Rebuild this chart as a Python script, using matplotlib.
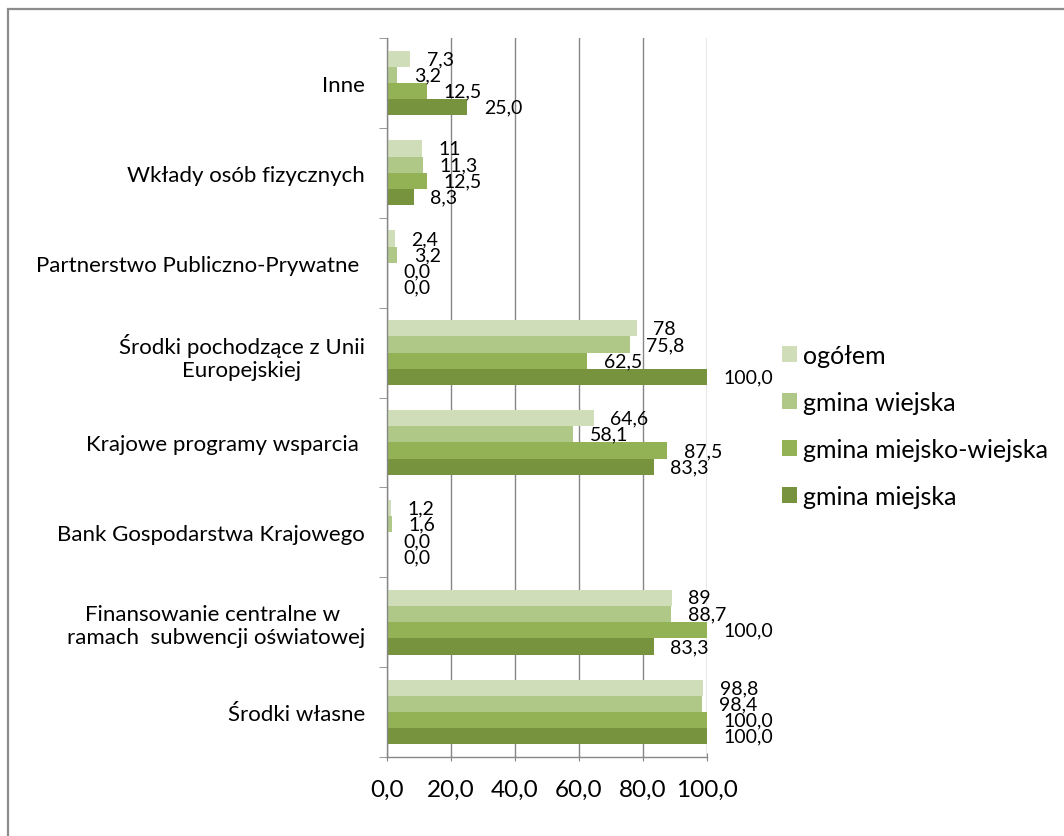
import matplotlib
matplotlib.use('Agg')
import matplotlib.pyplot as plt
from matplotlib.patches import Patch, Rectangle
import numpy as np

plt.rcParams['font.family'] = ['Lato', 'DejaVu Sans']

# categories from bottom to top (as drawn)
categories = ['Środki własne',
              'Finansowanie centralne w \nramach  subwencji oświatowej',
              'Bank Gospodarstwa Krajowego',
              'Krajowe programy wsparcia ',
              'Środki pochodzące z Unii\nEuropejskiej',
              'Partnerstwo Publiczno-Prywatne ',
              'Wkłady osób fizycznych',
              'Inne']

series = ['ogółem', 'gmina wiejska', 'gmina miejsko-wiejska', 'gmina miejska']
ogolem = [98.8, 89, 1.2, 64.6, 78, 2.4, 11, 7.3]
wiejska = [98.4, 88.7, 1.6, 58.1, 75.8, 3.2, 11.3, 3.2]
miejsko_wiejska = [100.0, 100.0, 0.0, 87.5, 62.5, 0.0, 12.5, 12.5]
miejska = [100.0, 83.3, 0.0, 83.3, 100.0, 0.0, 8.3, 25.0]

# labels as printed on the chart
ogolem_lbl = ['98,8', '89', '1,2', '64,6', '78', '2,4', '11', '7,3']
wiejska_lbl = ['98,4', '88,7', '1,6', '58,1', '75,8', '3,2', '11,3', '3,2']
mw_lbl = ['100,0', '100,0', '0,0', '87,5', '62,5', '0,0', '12,5', '12,5']
miejska_lbl = ['100,0', '83,3', '0,0', '83,3', '100,0', '0,0', '8,3', '25,0']

xticks = [0, 20, 40, 60, 80, 100]
xtick_labels = ['0,0', '20,0', '40,0', '60,0', '80,0', '100,0']

colors = ['#D0DDB9', '#AFC787', '#93B255', '#78933D']

fig = plt.figure(figsize=(10.64, 8.37), dpi=100)
ax = fig.add_axes([387/1064, 1 - 758/837, 320/1064, 719/837])

y = np.arange(len(categories))
h = 0.18
offsets = [1.5*h, 0.5*h, -0.5*h, -1.5*h]
data = [ogolem, wiejska, miejsko_wiejska, miejska]
labels = [ogolem_lbl, wiejska_lbl, mw_lbl, miejska_lbl]

for vals, lbls, off, c, name in zip(data, labels, offsets, colors, series):
    bars = ax.barh(y + off, vals, height=h, color=c, label=name, zorder=2)
    for b, v, t in zip(bars, vals, lbls):
        ax.annotate(t, (v, b.get_y() + h/2), xytext=(12, 0), textcoords='offset points',
                    va='center', ha='left', fontsize=14, color='black',
                    annotation_clip=False, zorder=3)

ax.set_xlim(0, 100)
ax.set_ylim(-0.5, len(categories) - 0.5)
ax.set_xticks(xticks)
ax.set_xticklabels(xtick_labels, fontsize=17.5)
ax.set_yticks(y)
ax.set_yticklabels(categories, fontsize=16)
ax.set_yticks(np.arange(-0.5, len(categories), 1), minor=True)
ax.tick_params(axis='y', which='major', length=0, pad=16)
ax.tick_params(axis='y', which='minor', length=6, color='#878787', direction='out')
ax.tick_params(axis='x', length=6, color='#878787', direction='inout', pad=13)
for lab in ax.get_yticklabels():
    lab.set_multialignment('center')

ax.grid(axis='x', color='#878787', linewidth=1.0, zorder=0)
ax.set_axisbelow(True)
for s in ['top', 'right']:
    ax.spines[s].set_visible(False)
for s in ['left', 'bottom']:
    ax.spines[s].set_color('#878787')
    ax.spines[s].set_linewidth(1.0)

handles = [Patch(facecolor=c, edgecolor='none') for c in colors]
fig.legend(handles, series, loc='center left', bbox_to_anchor=(782/1064, 1 - 427/837),
           frameon=False, fontsize=18, handlelength=0.6, handleheight=0.6,
           handletextpad=0.25, labelspacing=0.96, borderpad=0, borderaxespad=0)

# outer chart border (right and bottom edges fall outside the image)
fig.patches.append(Rectangle((8/1064, -0.1), 1.2, 1 - 10/837 + 0.1, transform=fig.transFigure,
                             fill=False, edgecolor='#8C8C8C', linewidth=1.6))

fig.savefig('out.png', dpi=100)
